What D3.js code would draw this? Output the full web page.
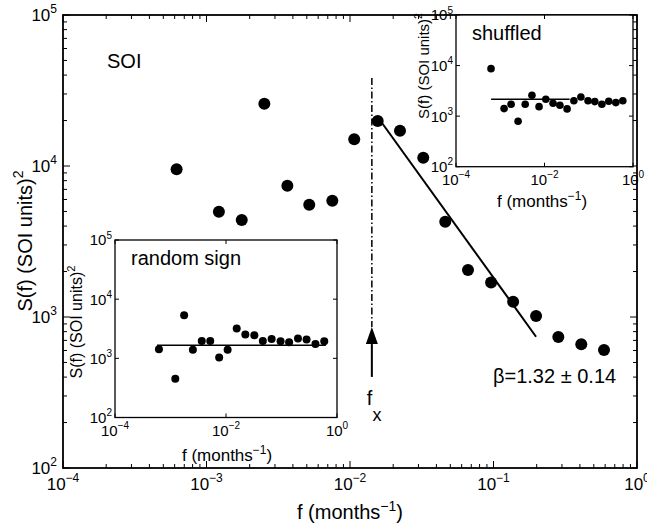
<!DOCTYPE html>
<html>
<head>
<meta charset="utf-8">
<script src="https://cdn.jsdelivr.net/npm/d3@7"></script>
<style>
	body { margin: 0; background: #fff; }
	svg { display: block; font-family: "Liberation Sans", Arial, Helvetica, sans-serif; }
</style>
</head>
<body>
<svg id="chart" width="647" height="527"></svg>
<script>
// frequencies of the log bins (months^-1), shared by all three panels
const freq = [6.19e-4, 1.22e-3, 1.76e-3, 2.53e-3, 3.66e-3, 5.20e-3, 7.53e-3, 1.07e-2, 1.56e-2, 2.23e-2,
	3.24e-2, 4.61e-2, 6.64e-2, 9.62e-2, 0.137, 0.198, 0.283, 0.409, 0.589]
// power spectrum S(f) of SOI
const soiPower = [9500, 4980, 4390, 25860, 7410, 5540, 5890, 15040, 19860, 17130,
	11350, 4280, 2050, 1690, 1260, 1015, 738, 659, 605]
// inset: random sign surrogate
const randomSignPower = [1420, 453, 5350, 1400, 1960, 1960, 1030, 1400, 3190, 2520,
	2450, 1960, 2120, 1940, 1870, 2160, 2080, 1750, 1940]
// inset: shuffled surrogate
const shuffledPower = [8690, 1410, 1720, 793, 1720, 2590, 1540, 2160, 1800, 1640,
	1390, 2020, 2390, 2020, 1940, 1720, 1970, 1850, 2020]

// power law fit (beta = 1.32)
const fitF = [0.0156, 0.198]
const fitS = [21100, 740]
const betaText = 'β=1.32 ± 0.14'

// flat reference lines of the insets
const randomSignLineF = [5.7e-4, 0.63]
const randomSignLineS = 1660
const shuffledLineF = [6.2e-4, 0.037]
const shuffledLineS = 2160

// crossover frequency f_x and its marker
const fx = 0.0142
const fxLineS = [38300, 860]
const fxArrowS = [860, 662, 401]

const xDomain = [1e-4, 1]
const yDomain = [1e2, 1e5]

const svg = d3.select('#chart')

function exponentText(sel, base, exp, size, supSize) {
	sel.append('tspan').attr('font-size', size).text(base)
	sel.append('tspan')
		.attr('font-size', supSize)
		.attr('dy', -size * 0.45)
		.text(exp < 0 ? '\u2212' + (-exp) : exp)
}

function isMajor(v) {
	const l = Math.log10(v)
	return Math.abs(l - Math.round(l)) < 1e-9
}

// box, inward ticks on all four sides and tick labels
function drawAxes(g, x, y, o) {
	const [x0, x1] = x.range()
	const [y0, y1] = y.range()

	let xt = x.ticks().filter(v => o.minor || isMajor(v))
	let yt = y.ticks().filter(v => o.minor || isMajor(v))
	if (o.xMajors) xt = xt.filter(v => !isMajor(v) || o.xMajors.includes(Math.round(Math.log10(v))))

	const ticks = g.append('g').attr('stroke', '#000').attr('stroke-width', 1)
	xt.forEach(v => {
		const len = isMajor(v) ? o.major : o.minor
		ticks.append('line').attr('x1', x(v)).attr('x2', x(v)).attr('y1', y0).attr('y2', y0 - len)
		ticks.append('line').attr('x1', x(v)).attr('x2', x(v)).attr('y1', y1).attr('y2', y1 + len)
	})
	yt.forEach(v => {
		const len = isMajor(v) ? o.major : o.minor
		ticks.append('line').attr('y1', y(v)).attr('y2', y(v)).attr('x1', x0).attr('x2', x0 + len)
		ticks.append('line').attr('y1', y(v)).attr('y2', y(v)).attr('x1', x1).attr('x2', x1 - len)
	})

	g.append('rect')
		.attr('x', x0).attr('y', y1)
		.attr('width', x1 - x0).attr('height', y0 - y1)
		.attr('fill', 'none').attr('stroke', '#000').attr('stroke-width', o.lineWidth)

	xt.filter(isMajor).forEach(v => {
		const t = g.append('text')
			.attr('x', x(v)).attr('y', y0 + o.xLabelGap)
			.attr('text-anchor', 'middle')
		exponentText(t, '10', Math.round(Math.log10(v)), o.fontSize, o.supSize)
	})
	yt.filter(isMajor).forEach(v => {
		const t = g.append('text')
			.attr('x', x0 - o.yLabelGap).attr('y', y(v) + o.fontSize * 0.36)
			.attr('text-anchor', 'end')
		exponentText(t, '10', Math.round(Math.log10(v)), o.fontSize, o.supSize)
	})
}

function xTitle(g, cx, by, size) {
	const t = g.append('text').attr('x', cx).attr('y', by).attr('text-anchor', 'middle').attr('font-size', size)
	t.append('tspan').text('f (months')
	t.append('tspan').attr('font-size', size * 0.7).attr('dy', -size * 0.4).text('\u22121')
	t.append('tspan').attr('dy', size * 0.4).text(')')
}

function yTitle(g, bx, cy, size) {
	const t = g.append('text')
		.attr('transform', `translate(${bx},${cy}) rotate(-90)`)
		.attr('text-anchor', 'middle').attr('font-size', size)
	t.append('tspan').text('S(f) (SOI units)')
	t.append('tspan').attr('font-size', size * 0.7).attr('dy', -size * 0.45).text('2')
}

/*----------------- main panel -----------------*/

const x = d3.scaleLog().domain(xDomain).range([63, 637])
const y = d3.scaleLog().domain(yDomain).range([468, 15])

const main = svg.append('g')
drawAxes(main, x, y, {
	minor: 4, major: 7, lineWidth: 1.8,
	fontSize: 17, supSize: 12, xLabelGap: 22, yLabelGap: 6
})

xTitle(main, 350, 519, 20)
yTitle(main, 32, 241, 20)

main.append('text').attr('x', 107).attr('y', 68).attr('font-size', 20).text('SOI')

// dash-dot crossover line
main.append('line')
	.attr('x1', x(fx)).attr('x2', x(fx))
	.attr('y1', y(fxLineS[0])).attr('y2', y(fxLineS[1]))
	.attr('stroke', '#000').attr('stroke-width', 1.5)
	.attr('stroke-dasharray', '7,2.5,1.5,2.5')

// arrow pointing up at f_x
main.append('line')
	.attr('x1', x(fx)).attr('x2', x(fx))
	.attr('y1', y(fxArrowS[1])).attr('y2', y(fxArrowS[2]))
	.attr('stroke', '#000').attr('stroke-width', 2)
main.append('path')
	.attr('d', `M${x(fx)},${y(fxArrowS[0])} L${x(fx) - 6},${y(fxArrowS[1])} L${x(fx) + 6},${y(fxArrowS[1])} Z`)
	.attr('fill', '#000')

const fxLabel = main.append('text').attr('x', x(fx) - 5).attr('y', 405).attr('font-size', 20)
fxLabel.append('tspan').text('f')
fxLabel.append('tspan').attr('font-size', 18).attr('dy', 16).text('x')

// fit line
main.append('path')
	.datum(d3.zip(fitF, fitS))
	.attr('d', d3.line().x(d => x(d[0])).y(d => y(d[1])))
	.attr('fill', 'none').attr('stroke', '#000').attr('stroke-width', 2)

main.append('g')
	.selectAll('circle')
	.data(d3.zip(freq, soiPower))
	.join('circle')
	.attr('cx', d => x(d[0]))
	.attr('cy', d => y(d[1]))
	.attr('r', 6)
	.attr('fill', '#000')

main.append('text').attr('x', 493).attr('y', 383).attr('font-size', 20).text(betaText)

/*----------------- insets -----------------*/

function drawInset(box, power, lineF, lineS, label, titles) {
	const ix = d3.scaleLog().domain(xDomain).range([box.x0, box.x1])
	const iy = d3.scaleLog().domain(yDomain).range([box.y0, box.y1])
	const g = svg.append('g')

	g.append('rect')
		.attr('x', box.x0).attr('y', box.y1)
		.attr('width', box.x1 - box.x0).attr('height', box.y0 - box.y1)
		.attr('fill', '#fff')

	drawAxes(g, ix, iy, {
		minor: 0, major: 4, lineWidth: 1.3, xMajors: [-4, -2, 0],
		fontSize: 15, supSize: 10, xLabelGap: 18, yLabelGap: 3
	})

	g.append('line')
		.attr('x1', ix(lineF[0])).attr('x2', ix(lineF[1]))
		.attr('y1', iy(lineS)).attr('y2', iy(lineS))
		.attr('stroke', '#000').attr('stroke-width', 1.6)

	g.append('g')
		.selectAll('circle')
		.data(d3.zip(freq, power))
		.join('circle')
		.attr('cx', d => ix(d[0]))
		.attr('cy', d => iy(d[1]))
		.attr('r', box.r)
		.attr('fill', '#000')

	g.append('text').attr('x', box.x0 + 16).attr('y', box.y1 + 25).attr('font-size', 20).text(label)

	xTitle(g, titles.xcx, titles.xby, titles.size)
	yTitle(g, titles.ybx, titles.ycy, titles.ysize)
}

drawInset({ x0: 115, x1: 337, y0: 417.5, y1: 240, r: 4 },
	randomSignPower, randomSignLineF, randomSignLineS, 'random sign',
	{ xcx: 227, xby: 461, size: 17, ybx: 82, ycy: 322, ysize: 16 })

drawInset({ x0: 456, x1: 633, y0: 166.7, y1: 15, r: 3.8 },
	shuffledPower, shuffledLineF, shuffledLineS, 'shuffled',
	{ xcx: 542, xby: 207, size: 17, ybx: 429, ycy: 66, ysize: 15 })
</script>
</body>
</html>
